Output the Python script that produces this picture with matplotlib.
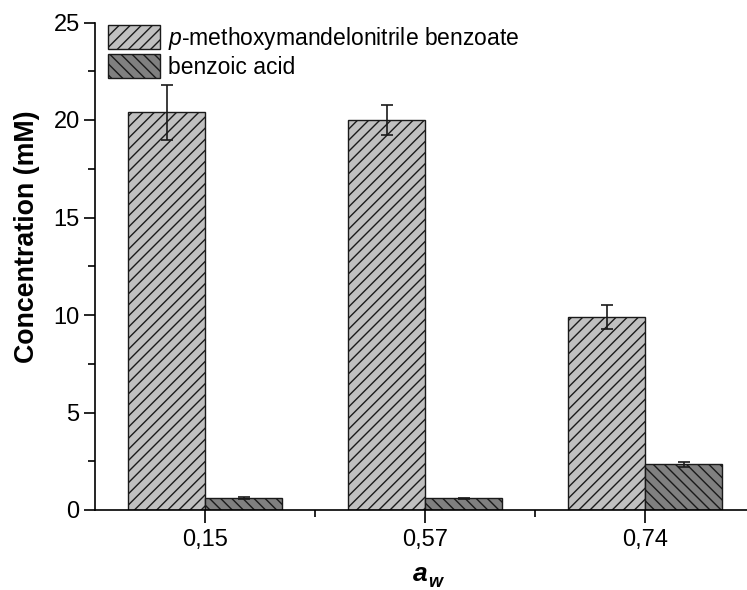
import matplotlib
matplotlib.use("Agg")
import matplotlib.pyplot as plt
import numpy as np

categories = ["0,15", "0,57", "0,74"]
ester = [20.4, 20.0, 9.9]
ester_err = [1.4, 0.75, 0.6]
acid = [0.62, 0.6, 2.35]
acid_err = [0.05, 0.04, 0.12]
series_names = ["p-methoxymandelonitrile benzoate", "benzoic acid"]

plt.rcParams['font.family'] = ['Liberation Sans', 'DejaVu Sans']
plt.rcParams['mathtext.fontset'] = 'custom'
plt.rcParams['mathtext.it'] = 'Liberation Sans:italic'
plt.rcParams['mathtext.bf'] = 'Liberation Sans:bold'
plt.rcParams['mathtext.rm'] = 'Liberation Sans'
plt.rcParams['hatch.linewidth'] = 1.0
plt.rcParams['hatch.color'] = '#1a1a1a'

W, H = 747, 590
fig = plt.figure(figsize=(W/100, H/100), dpi=100)
ax_w = 1 - 95/W
ax = fig.add_axes([95/W, 80/H, ax_w, (510-22.5)/H])

x = np.arange(len(categories))
w = 0.35
ekw = dict(elinewidth=1.2, capthick=1.2, ecolor='#1a1a1a')
ax.bar(x - w/2, ester, w, yerr=ester_err, color='#c0c0c0', edgecolor='#1a1a1a',
       linewidth=1.0, hatch='///', capsize=4.2, error_kw=ekw,
       label=r'$\it{p}$-methoxymandelonitrile benzoate')
ax.bar(x + w/2, acid, w, yerr=acid_err, color='#808080', edgecolor='#1a1a1a',
       linewidth=1.0, hatch='\\\\\\', capsize=4.2, error_kw=ekw,
       label=series_names[1])

ax.set_ylim(0, 25)
ax.set_xlim(-0.5, (W-95)/220 - 0.5)
ax.set_yticks([0, 5, 10, 15, 20, 25])
ax.set_yticks(np.arange(2.5, 25, 5), minor=True)
ax.set_xticks(x)
ax.set_xticklabels(categories, fontsize=17)
ax.set_xticks([0.5, 1.5], minor=True)
ax.tick_params(axis='y', which='major', labelsize=17, length=8, width=1.2, direction='out', pad=3)
ax.tick_params(axis='y', which='minor', length=5, width=1.2, direction='out')
ax.tick_params(axis='x', which='major', length=9, width=1.2, direction='out', pad=5)
ax.tick_params(axis='x', which='minor', length=5, width=1.2, direction='out')
ax.spines['top'].set_visible(False)
ax.spines['right'].set_visible(False)
for s in ['left', 'bottom']:
    ax.spines[s].set_linewidth(1.2)

ax.set_ylabel('Concentration (mM)', fontsize=19.3, fontweight='bold')
ax.yaxis.set_label_coords(-(95-40)/(W-95), (510-237)/487.5)

# x-axis label a_w (bold italic with subscript)
fig.text(420/W, 1 - 581/H, 'a', fontsize=19, fontweight='bold', fontstyle='italic',
         ha='center', va='baseline')
fig.text(428/W, 1 - 587/H, 'w', fontsize=13, fontweight='bold', fontstyle='italic',
         ha='left', va='baseline')

leg = ax.legend(loc='upper left', bbox_to_anchor=(13/(W-95), 0.995), frameon=False, fontsize=16.5,
                handlelength=2.27, handleheight=1.2, handletextpad=0.35, labelspacing=0.1,
                borderaxespad=0.0, borderpad=0.0)

fig.savefig('out.png', dpi=100)
